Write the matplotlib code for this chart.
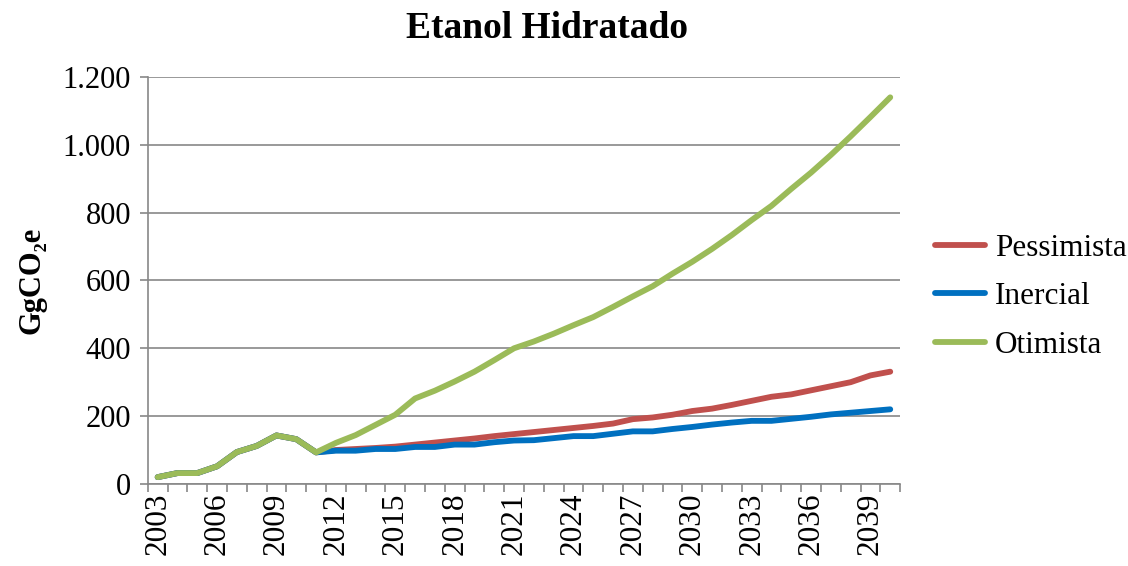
import matplotlib
matplotlib.use("Agg")
import matplotlib.pyplot as plt
from matplotlib.ticker import FuncFormatter, MultipleLocator

plt.rcParams["font.family"] = ["Liberation Serif", "DejaVu Serif"]

# Data
years = list(range(2003, 2041))

history = [20, 32, 32, 52, 94, 112, 143, 132, 93]  # 2003-2011, shared by all scenarios

pessimista = history + [100, 103, 106, 110, 116, 122, 128, 134, 141, 147,
                        153, 159, 165, 171, 178, 191, 196, 204, 215, 222,
                        233, 245, 257, 264, 276, 288, 300, 320, 331]
inercial = history + [98, 98, 103, 103, 109, 109, 116, 116, 123, 128,
                      129, 135, 141, 141, 148, 155, 155, 162, 168, 175,
                      181, 186, 186, 192, 198, 205, 210, 215, 220]
otimista = history + [121, 144, 174, 204, 252, 275, 302, 331, 365, 400,
                      420, 443, 468, 492, 522, 553, 583, 620, 655, 693,
                      734, 778, 820, 870, 918, 970, 1025, 1082, 1140]

series = {"Pessimista": (pessimista, "#C0504D"),
          "Inercial": (inercial, "#0070C0"),
          "Otimista": (otimista, "#9BBB59")}

fig = plt.figure(figsize=(11.28, 5.66), dpi=100)
ax = fig.add_axes([0.131, 0.145, 0.667, 0.719])

x = list(range(len(years)))
for name, (vals, color) in series.items():
    ax.plot(x, vals, color=color, lw=4.2, label=name, solid_capstyle="round")

ax.set_xlim(-0.5, len(years) - 0.5)
ax.set_ylim(0, 1200)
ax.yaxis.set_major_locator(MultipleLocator(200))
ax.yaxis.set_major_formatter(FuncFormatter(lambda v, p: f"{int(v):,}".replace(",", ".")))

ax.set_xticks([i - 0.5 for i in range(len(years) + 1)])
ax.set_xticklabels([])
ax.set_xticks(x[::3], minor=True)
ax.set_xticklabels([str(y) for y in years[::3]], minor=True, rotation=90)
ax.tick_params(axis="x", which="minor", length=0, labelsize=22.5, pad=6)
ax.tick_params(axis="x", which="major", length=6, color="#888888", width=1.2)
ax.tick_params(axis="y", length=6, color="#888888", width=1.2, labelsize=22, pad=6)

ax.grid(axis="y", color="#888888", lw=1.2)
ax.set_axisbelow(True)
for s in ["top", "right"]:
    ax.spines[s].set_visible(False)
for s in ["left", "bottom"]:
    ax.spines[s].set_color("#888888")
    ax.spines[s].set_linewidth(1.2)

ax.set_ylabel("GgCO₂e", fontsize=22, fontweight="bold", labelpad=12)
fig.suptitle("Etanol Hidratado", fontsize=27, fontweight="bold", x=0.485, y=0.98)

ax.legend(loc="center left", bbox_to_anchor=(1.046, 0.46), frameon=False,
          borderpad=0, borderaxespad=0,
          fontsize=22.5, handlelength=1.6, handletextpad=0.32, labelspacing=0.62)

fig.savefig("out.png", dpi=100)
